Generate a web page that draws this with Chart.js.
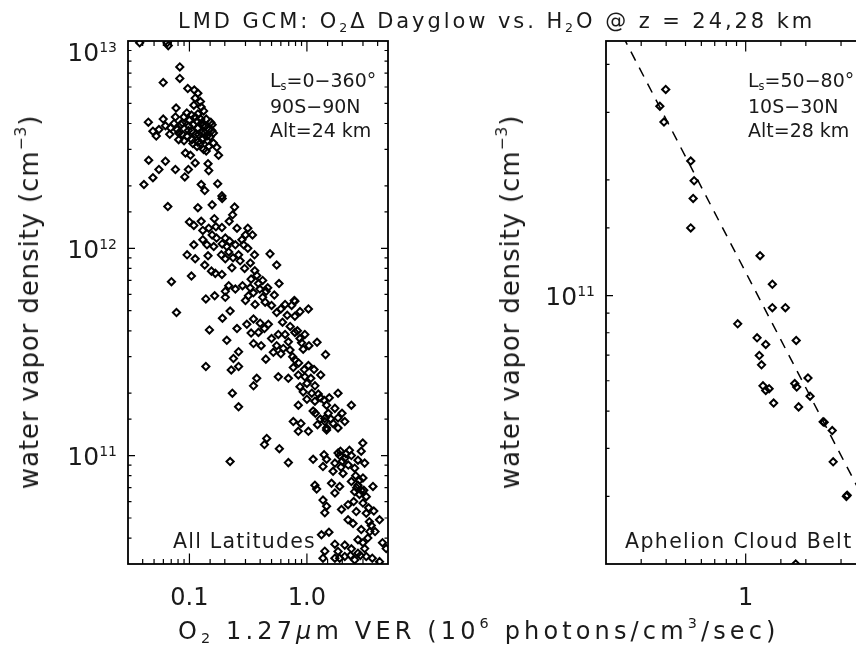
<!DOCTYPE html>
<html>
<head>
<meta charset="utf-8">
<title>LMD GCM: O2 Delta dayglow vs. H2O</title>
<script src="https://cdn.jsdelivr.net/npm/chart.js@4.4.1/dist/chart.umd.min.js"></script>
<style>
  html, body { margin: 0; padding: 0; background: #fff; }
  body { width: 856px; height: 652px; overflow: hidden; position: relative;
         font-family: "DejaVu Sans", sans-serif; color: #1a1a1a; }
  canvas { position: absolute; left: 0; top: 0; }
  .lbl { position: absolute; white-space: nowrap; line-height: 1; }
  .lbl sub { font-size: 0.6em; vertical-align: -0.3em; line-height: 0; }
  .lbl sup { font-size: 0.6em; vertical-align: 0.75em; line-height: 0; }
  .rot { transform: translate(-50%, -50%) rotate(-90deg); }
</style>
</head>
<body>
<canvas id="leftChart" width="900" height="652"></canvas>
<canvas id="rightChart" width="900" height="652"></canvas>

<div class="lbl fit" data-w="637" style="left:178px;top:10.5px;font-size:21px">LMD GCM: O<sub>2</sub>Δ Dayglow vs. H<sub>2</sub>O @ z = 24,28 km</div>
<div class="lbl fit" data-w="602" style="left:178px;top:619px;font-size:24px">O<sub>2</sub> 1.27<i>μ</i>m VER (10<sup>6</sup> photons/cm<sup>3</sup>/sec)</div>
<div class="lbl fit rot" data-w="375" style="left:29px;top:302px;font-size:26px">water vapor density (cm<sup>−3</sup>)</div>
<div class="lbl fit rot" data-w="375" style="left:510px;top:302px;font-size:26px">water vapor density (cm<sup>−3</sup>)</div>

<div class="lbl" style="left:270px;top:71px;font-size:19px">L<sub>s</sub>=0−360°</div>
<div class="lbl" style="left:270px;top:97px;font-size:19px">90S−90N</div>
<div class="lbl" style="left:270px;top:121px;font-size:19px">Alt=24 km</div>
<div class="lbl fit" data-w="143" style="left:173px;top:531px;font-size:20.5px">All Latitudes</div>

<div class="lbl" style="left:748px;top:71px;font-size:19px">L<sub>s</sub>=50−80°</div>
<div class="lbl" style="left:748px;top:97px;font-size:19px">10S−30N</div>
<div class="lbl" style="left:748px;top:121px;font-size:19px">Alt=28 km</div>
<div class="lbl fit" data-w="228" style="left:625px;top:531px;font-size:20.5px">Aphelion Cloud Belt</div>

<script>
// all latitudes, 24 km: O2 VER (1e6 photons/cm3/s) vs H2O (cm-3)
const leftX = [
  0.0377, 0.0647, 0.066, 0.0828, 0.0828, 0.0598, 0.0968, 0.110, 0.112, 0.109,
  0.077, 0.126, 0.132, 0.0598, 0.0447, 0.076, 0.0897, 0.112, 0.139, 0.156,
  0.0625, 0.055, 0.0489, 0.069, 0.0522, 0.081, 0.0955, 0.105, 0.12, 0.141,
  0.16, 0.171, 0.081, 0.124, 0.132, 0.0925, 0.102, 0.177, 0.045, 0.0625,
  0.112, 0.144, 0.055, 0.076, 0.098, 0.087, 0.099, 0.128, 0.146, 0.116,
  0.146, 0.074, 0.0786, 0.137, 0.16, 0.105, 0.127, 0.116,
  0.095, 0.104, 0.118, 0.125, 0.13, 0.118, 0.108, 0.098, 0.113, 0.135,
  0.15, 0.143, 0.128, 0.118, 0.107, 0.09, 0.087, 0.152, 0.124, 0.118,
  0.1, 0.085, 0.068, 0.139, 0.155,

  0.041, 0.0489, 0.0913, 0.146, 0.126, 0.135, 0.174, 0.189, 0.19, 0.0655,
  0.118, 0.156, 0.242, 0.233, 0.163, 0.1, 0.109, 0.126, 0.13, 0.146,
  0.168, 0.189, 0.218, 0.254, 0.314, 0.344, 0.156, 0.202, 0.109, 0.141,
  0.161, 0.208, 0.246, 0.289, 0.314, 0.216, 0.0955, 0.112, 0.144, 0.187,
  0.202, 0.262, 0.358, 0.485, 0.553, 0.135, 0.23, 0.295, 0.154, 0.166,
  0.189, 0.104, 0.0703, 0.374, 0.335, 0.387, 0.579, 0.216, 0.283, 0.329,
  0.397, 0.464, 0.202, 0.246, 0.164, 0.138, 0.318, 0.528, 0.781, 0.202,
  0.13, 0.17, 0.19, 0.22, 0.28, 0.3, 0.235, 0.27, 0.33, 0.36,
  0.42, 0.45, 0.35, 0.3, 0.42,

  0.0776, 0.362, 0.441, 0.5, 0.553, 0.652, 0.741, 0.79, 0.873, 1.03,
  0.79, 0.222, 0.191, 0.148, 0.254, 0.308, 0.351, 0.4, 0.435, 0.47,
  0.335, 0.387, 0.5, 0.571, 0.652, 0.695, 0.79, 0.873, 0.96, 0.208,
  0.351, 0.408, 0.553, 0.63, 0.718, 0.93, 1.04, 1.22, 0.262, 0.518,
  0.756, 1.44, 0.237, 0.447, 0.79, 0.138, 0.227, 0.262, 0.766, 1.03,
  0.374, 0.571, 0.695, 0.845, 0.96, 1.08, 1.31, 0.351, 0.873, 1.0,
  1.17, 0.93, 0.232, 1.25, 1.84, 1.0, 1.17, 1.4, 0.262, 0.845,
  1.47, 1.73, 2.39, 1.13, 1.18, 1.52, 1.99, 1.42, 1.84, 2.1,
  0.766, 0.889, 1.23, 1.42, 1.67, 1.47,
  0.6, 0.68, 0.62, 0.72, 0.83, 0.9, 0.6, 0.85, 0.95, 1.15,
  1.1, 1.3, 1.55, 1.3, 1.6,

  0.845, 1.03, 1.47, 1.84, 0.455, 0.435, 0.583, 0.222, 0.695, 1.13,
  1.4, 1.47, 1.73, 1.37, 1.67, 2.03, 1.84, 2.1, 2.39, 2.72,
  2.9, 2.55, 2.99, 3.1, 1.93, 2.3, 1.17, 1.21, 1.62, 1.9,
  1.73, 2.39, 2.72, 2.9, 2.55, 3.0, 3.65, 3.2, 1.37, 1.47,
  1.42, 1.97, 2.24, 2.63, 3.2, 3.71, 2.24, 2.47, 3.53, 4.15,
  3.43, 3.3, 1.33, 1.54, 2.72, 1.73, 2.1, 2.39, 1.84, 1.42,
  3.1, 2.72, 2.1, 1.73, 1.37, 2.55, 4.15, 4.73, 3.2,
  1.9, 2.0, 2.15, 2.25, 1.95, 2.6, 2.8, 2.65, 2.8, 3.05,
  2.5, 3.0, 3.35, 3.4, 2.9, 3.8, 3.0, 2.35, 2.85, 1.9,
  3.6, 4.4
];
const leftY = [
  9.8e12, 9.8e12, 9.5e12, 7.5e12, 6.6e12, 6.3e12, 5.9e12, 5.8e12, 5.3e12, 4.9e12,
  4.75e12, 4.8e12, 4.6e12, 4.2e12, 4.06e12, 4.3e12, 4.3e12, 4.3e12, 4.2e12, 3.95e12,
  3.9e12, 3.74e12, 3.67e12, 3.81e12, 3.48e12, 3.6e12, 3.48e12, 3.67e12, 3.54e12, 3.48e12,
  3.22e12, 3.07e12, 3.34e12, 3.22e12, 3.0e12, 2.88e12, 2.81e12, 2.81e12, 2.66e12, 2.63e12,
  2.58e12, 2.56e12, 2.4e12, 2.4e12, 2.4e12, 4.03e12, 3.88e12, 4.03e12, 3.74e12, 3.1e12,
  3.1e12, 4.0e12, 3.74e12, 3.88e12, 3.6e12, 3.34e12, 3.6e12, 4.1e12,
  4.5e12, 4.4e12, 4.45e12, 4.2e12, 3.9e12, 3.8e12, 3.95e12, 3.7e12, 3.55e12, 3.6e12,
  3.45e12, 3.3e12, 3.35e12, 3.25e12, 3.2e12, 3.3e12, 3.55e12, 4.05e12, 5.1e12, 5.6e12,
  4.15e12, 3.95e12, 3.55e12, 2.95e12, 3.7e12,

  2.03e12, 2.19e12, 2.21e12, 2.37e12, 2.03e12, 1.9e12, 2.05e12, 1.79e12, 1.74e12, 1.59e12,
  1.57e12, 1.62e12, 1.58e12, 1.45e12, 1.39e12, 1.34e12, 1.29e12, 1.35e12, 1.22e12, 1.25e12,
  1.27e12, 1.26e12, 1.35e12, 1.25e12, 1.25e12, 1.16e12, 1.16e12, 1.12e12, 1.04e12, 1.04e12,
  1.02e12, 1.02e12, 1.04e12, 1.04e12, 1.0e12, 9.6e11, 9.3e11, 8.9e11, 9.2e11, 9.3e11,
  8.9e11, 9.3e11, 9.3e11, 9.4e11, 8.3e11, 8.3e11, 8.05e11, 8.0e11, 7.76e11, 7.57e11,
  7.48e11, 7.35e11, 6.9e11, 7.4e11, 7.1e11, 6.76e11, 6.76e11, 6.6e11, 6.6e11, 6.45e11,
  6.36e11, 6.45e11, 6.2e11, 6.36e11, 5.9e11, 5.7e11, 5.9e11, 5.95e11, 5.6e11, 5.8e11,
  1.1e12, 1.12e12, 1.05e12, 1.08e12, 1.1e12, 1.16e12, 9.0e11, 8.7e11, 8.5e11, 7.8e11,
  7.0e11, 6.2e11, 6.1e11, 5.6e11, 5.8e11,

  4.9e11, 5.36e11, 5.5e11, 5.3e11, 4.9e11, 5.36e11, 5.3e11, 5.55e11, 4.95e11, 5.1e11,
  4.7e11, 4.98e11, 4.6e11, 4.04e11, 4.1e11, 4.3e11, 4.56e11, 4.35e11, 4.1e11, 4.3e11,
  3.9e11, 3.93e11, 3.67e11, 3.84e11, 3.84e11, 3.54e11, 3.93e11, 3.67e11, 3.84e11, 3.6e11,
  3.47e11, 3.39e11, 3.39e11, 3.29e11, 3.23e11, 3.26e11, 3.39e11, 3.52e11, 3.17e11, 3.15e11,
  3.0e11, 3.07e11, 2.94e11, 2.92e11, 2.9e11, 2.69e11, 2.59e11, 2.69e11, 2.66e11, 2.72e11,
  2.36e11, 2.4e11, 2.36e11, 2.45e11, 2.4e11, 2.36e11, 2.45e11, 2.17e11, 2.15e11, 2.23e11,
  2.17e11, 2.03e11, 2.0e11, 1.98e11, 2.0e11, 1.87e11, 1.83e11, 1.85e11, 1.72e11, 1.75e11,
  1.75e11, 1.69e11, 1.75e11, 1.64e11, 1.6e11, 1.6e11, 1.6e11, 1.51e11, 1.52e11, 1.46e11,
  1.46e11, 1.43e11, 1.41e11, 1.46e11, 1.43e11, 1.36e11,
  5.1e11, 4.75e11, 4.4e11, 4.2e11, 4.0e11, 3.5e11, 3.1e11, 2.8e11, 2.6e11, 2.6e11,
  2.0e11, 1.9e11, 1.9e11, 1.5e11, 1.5e11,

  1.31e11, 1.31e11, 1.33e11, 1.36e11, 1.21e11, 1.13e11, 1.08e11, 9.36e10, 9.25e10, 9.6e10,
  1.01e11, 9.6e10, 9.2e10, 8.85e10, 8.4e10, 8.2e10, 1.03e11, 9.7e10, 1.0e11, 9.5e10,
  1.05e11, 8.7e10, 1.15e11, 9.2e10, 1.05e11, 1.06e11, 7.2e10, 6.9e10, 7.35e10, 7.1e10,
  6.6e10, 7.5e10, 7.2e10, 6.8e10, 6.7e10, 7.8e10, 7.1e10, 6.34e10, 6.1e10, 5.7e10,
  5.3e10, 5.5e10, 5.8e10, 5.37e10, 5.27e10, 5.4e10, 4.9e10, 4.7e10, 4.6e10, 4.9e10,
  4.3e10, 4.0e10, 4.15e10, 4.27e10, 3.93e10, 3.74e10, 3.7e10, 3.55e10, 3.45e10, 3.46e10,
  3.56e10, 3.38e10, 3.26e10, 3.2e10, 3.2e10, 3.14e10, 3.08e10, 3.56e10, 3.26e10,
  1.0e11, 9.4e10, 1.02e11, 9.0e10, 8.8e10, 8.0e10, 7.6e10, 7.0e10, 6.5e10, 6.8e10,
  6.0e10, 5.9e10, 5.6e10, 4.8e10, 4.4e10, 4.3e10, 3.8e10, 3.3e10, 3.3e10, 3.2e10,
  3.2e10, 3.8e10
];

// aphelion cloud belt, 28 km
const rightX = [
  0.398, 0.372, 0.39, 0.531, 0.552, 0.546, 0.531, 1.18, 1.36, 1.36,
  1.58, 0.912, 1.14, 1.26, 1.79, 1.17, 1.2, 1.22, 1.26, 1.31,
  1.38, 1.76, 1.8, 2.05, 2.1, 1.84, 2.44, 2.47, 2.71, 2.74,
  3.19, 3.22, 1.78
];
const rightY = [
  3.44e11, 3.11e11, 2.83e11, 2.24e11, 1.99e11, 1.79e11, 1.5e11, 1.27e11, 1.07e11, 9.3e10,
  9.3e10, 8.44e10, 7.76e10, 7.46e10, 7.64e10, 6.98e10, 6.6e10, 5.82e10, 5.66e10, 5.72e10,
  5.25e10, 5.9e10, 5.78e10, 6.1e10, 5.47e10, 5.13e10, 4.69e10, 4.68e10, 4.45e10, 3.69e10,
  3.0e10, 3.02e10, 2.0e10
];

// dashed fit line (right panel)
const fitX = [0.2, 4];
const fitY = [5.75e11, 2.875e10];

// axis ranges
const leftXRange = [0.03, 4.9];
const leftYRange = [3e10, 1e13];
const rightXRange = [0.2, 4];
const rightYRange = [2e10, 4.6e11];

// labelled ticks
const leftXTickValues = [0.1, 1];
const leftXTickText = ['0.1', '1.0'];
const leftYTickExps = [11, 12, 13];
const rightXTickValues = [1];
const rightXTickText = ['1'];
const rightYTickExps = [11];

const FONT = '"DejaVu Sans", sans-serif';
const INK = '#1a1a1a';

function isDecade(v) {
  const l = Math.log10(v);
  return Math.abs(l - Math.round(l)) < 1e-6;
}

// frame, inward ticks on all four sides, and the tick labels
const frameTicks = {
  id: 'frameTicks',
  afterDatasetsDraw(chart, args, opts) {
    const { ctx, chartArea: a } = chart;
    const x = chart.scales.x, y = chart.scales.y;
    ctx.save();
    ctx.strokeStyle = '#000';
    ctx.lineWidth = 1.8;
    ctx.strokeRect(a.left, a.top, a.right - a.left, a.bottom - a.top);

    ctx.lineWidth = 1.2;
    ctx.beginPath();
    x.ticks.forEach(t => {
      const px = x.getPixelForValue(t.value);
      if (px < a.left + 1 || px > a.right - 1) return;
      const len = isDecade(t.value) ? 10.5 : 5;
      ctx.moveTo(px, a.bottom); ctx.lineTo(px, a.bottom - len);
      ctx.moveTo(px, a.top); ctx.lineTo(px, a.top + len);
    });
    y.ticks.forEach(t => {
      const py = y.getPixelForValue(t.value);
      if (py < a.top + 1 || py > a.bottom - 1) return;
      const len = isDecade(t.value) ? 7 : 3.5;
      ctx.moveTo(a.left, py); ctx.lineTo(a.left + len, py);
      ctx.moveTo(a.right, py); ctx.lineTo(a.right - len, py);
    });
    ctx.stroke();

    ctx.fillStyle = INK;
    ctx.textBaseline = 'alphabetic';
    ctx.font = '24px ' + FONT;
    ctx.textAlign = 'center';
    opts.xValues.forEach((v, i) => {
      ctx.fillText(opts.xText[i], x.getPixelForValue(v), a.bottom + 41);
    });

    ctx.textAlign = 'left';
    opts.yExps.forEach(e => {
      const py = Math.max(y.getPixelForValue(Math.pow(10, e)), a.top + 10);
      const right = a.left - 11;
      ctx.font = '14px ' + FONT;
      const sw = ctx.measureText(String(e)).width;
      ctx.fillText(String(e), right - sw, py + 0.5);
      ctx.font = '25px ' + FONT;
      const bw = ctx.measureText('10').width;
      ctx.fillText('10', right - sw - bw, py + 9.5);
    });
    ctx.restore();
  }
};

function hiddenLogAxis(range) {
  return {
    type: 'logarithmic',
    min: range[0],
    max: range[1],
    display: true,
    grid: { display: false, drawTicks: false },
    border: { display: false },
    ticks: { display: false, autoSkip: false }
  };
}

function scatterSet(xs, ys) {
  return {
    data: xs.map((v, i) => ({ x: v, y: ys[i] })),
    pointStyle: 'rectRot',
    pointRadius: 3.6,
    borderWidth: 2,
    borderColor: '#000',
    backgroundColor: 'rgba(0,0,0,0)',
    showLine: false
  };
}

function makeChart(id, datasets, xRange, yRange, padding, labels) {
  return new Chart(document.getElementById(id), {
    type: 'scatter',
    data: { datasets: datasets },
    options: {
      responsive: false,
      animation: false,
      events: [],
      layout: { padding: padding },
      plugins: {
        legend: { display: false },
        tooltip: { enabled: false },
        frameTicks: labels
      },
      scales: { x: hiddenLogAxis(xRange), y: hiddenLogAxis(yRange) }
    },
    plugins: [frameTicks]
  });
}

makeChart('leftChart', [scatterSet(leftX, leftY)], leftXRange, leftYRange,
  { left: 128, top: 41, right: 512, bottom: 88 },
  { xValues: leftXTickValues, xText: leftXTickText, yExps: leftYTickExps });

makeChart('rightChart', [
    scatterSet(rightX, rightY),
    {
      type: 'line',
      data: fitX.map((v, i) => ({ x: v, y: fitY[i] })),
      borderColor: '#000',
      borderWidth: 1.5,
      borderDash: [10, 8],
      pointRadius: 0,
      fill: false
    }
  ], rightXRange, rightYRange,
  { left: 606, top: 41, right: 34, bottom: 88 },
  { xValues: rightXTickValues, xText: rightXTickText, yExps: rightYTickExps });

// stretch the text to the widths of the original lettering
document.querySelectorAll('.fit').forEach(el => {
  const target = Number(el.dataset.w);
  const n = el.textContent.length;
  const w = el.offsetWidth;
  el.style.letterSpacing = ((target - w) / n).toFixed(2) + 'px';
});
</script>
</body>
</html>
